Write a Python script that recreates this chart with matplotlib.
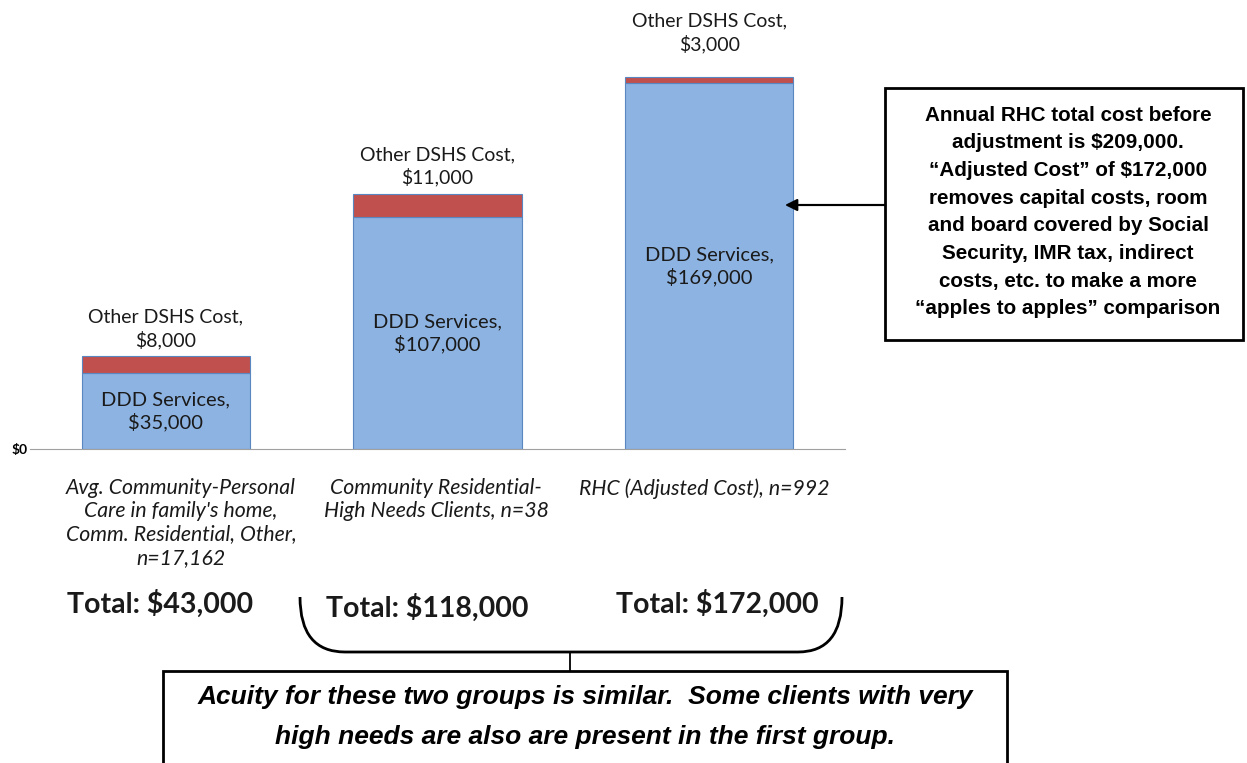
import numpy as np
import matplotlib.pyplot as plt
from matplotlib.patches import Rectangle, PathPatch
from matplotlib.path import Path

categories = ["Avg. Community-Personal\nCare in family's home,\nComm. Residential, Other,\nn=17,162",
              "Community Residential-\nHigh Needs Clients, n=38",
              "RHC (Adjusted Cost), n=992"]
ddd = [35000, 107000, 169000]
other = [8000, 11000, 3000]
totals = ["Total: $43,000", "Total: $118,000", "Total: $172,000"]

W, H = 1247, 763

def fx(x):
	return x / W

def fy(y):
	return 1 - y / H

fig = plt.figure(figsize=(12.47, 7.63), dpi=100)
ax = fig.add_axes([fx(30), fy(449), fx(845) - fx(30), fy(16) - fy(449)])

x = np.arange(len(categories))
ax.bar(x, ddd, width=0.62, color='#8DB3E2', edgecolor='#5B87C0', linewidth=0.8)
ax.bar(x, other, bottom=ddd, width=0.62, color='#C0504D', edgecolor='#5B87C0', linewidth=0.8)
ax.set_xlim(-0.5, 2.5)
ax.set_ylim(0, 200000)
for s in ['top', 'right', 'left']:
	ax.spines[s].set_visible(False)
ax.spines['bottom'].set_color('#A0A0A0')
ax.set_xticks([])
ax.set_yticks([0])
ax.set_yticklabels(['$0'], fontsize=10, fontfamily='Lato', fontweight='bold')
ax.tick_params(axis='y', length=0, pad=2)

lab_font = ['Lato', 'DejaVu Sans']
other_off = [5, 5, 17]
for i in range(len(categories)):
	ax.text(x[i], ddd[i] / 2, 'DDD Services,\n$%s' % format(ddd[i], ','), ha='center', va='center',
		fontsize=14.5, fontfamily=lab_font, linespacing=1.3, color='#1a1a1a')
	ax.annotate('Other DSHS Cost,\n$%s' % format(other[i], ','), (x[i], ddd[i] + other[i]),
		xytext=(0, other_off[i]), textcoords='offset points', ha='center', va='bottom',
		fontsize=14, fontfamily=lab_font, linespacing=1.3, color='#1a1a1a')

# category labels
cat_x = [181, 436, 704]
for i in range(len(categories)):
	fig.text(fx(cat_x[i]), fy(478), categories[i], ha='center', va='top', fontsize=15.3,
		fontstyle='italic', fontfamily=lab_font, linespacing=1.2, color='#1a1a1a')

# totals
tot_xy = [(160, 604), (427, 608), (717, 604)]
for i in range(len(totals)):
	fig.text(fx(tot_xy[i][0]), fy(tot_xy[i][1]), totals[i], ha='center', va='center',
		fontsize=20.5, fontweight='bold', fontfamily=lab_font, color='#1a1a1a')

# bracket under the two groups
verts = [(fx(300), fy(597)), (fx(300), fy(652)), (fx(345), fy(652)),
	(fx(798), fy(652)), (fx(842), fy(652)), (fx(842), fy(597))]
codes = [Path.MOVETO, Path.CURVE3, Path.CURVE3, Path.LINETO, Path.CURVE3, Path.CURVE3]
fig.patches.append(PathPatch(Path(verts, codes), transform=fig.transFigure, fill=False,
	edgecolor='black', linewidth=2))
fig.add_artist(plt.Line2D([fx(570), fx(570)], [fy(652), fy(671)], color='black', linewidth=1.3,
	transform=fig.transFigure))

# bottom note box
fig.patches.append(Rectangle((fx(163), fy(780)), fx(1007) - fx(163), fy(671) - fy(780),
	transform=fig.transFigure, fill=False, edgecolor='black', linewidth=2))
fig.text(fx(585), fy(717), 'Acuity for these two groups is similar.  Some clients with very\nhigh needs are also are present in the first group.',
	ha='center', va='center', fontsize=19, fontweight='bold', fontstyle='italic',
	fontfamily=['Liberation Sans Narrow', 'Liberation Sans'], linespacing=1.8)

# right note box
fig.patches.append(Rectangle((fx(885), fy(340)), fx(1243) - fx(885), fy(88) - fy(340),
	transform=fig.transFigure, fill=False, edgecolor='black', linewidth=2))
fig.text(fx(1068), fy(212), 'Annual RHC total cost before\nadjustment is $209,000.\n\u201cAdjusted Cost\u201d of $172,000\nremoves capital costs, room\nand board covered by Social\nSecurity, IMR tax, indirect\ncosts, etc. to make a more\n\u201capples to apples\u201d comparison',
	ha='center', va='center', fontsize=14.9, fontweight='bold', fontfamily='Liberation Sans',
	linespacing=1.58)
fig.add_artist(plt.Line2D([fx(885), fx(800)], [fy(205), fy(205)], color='black', linewidth=1.5,
	transform=fig.transFigure))
ax.annotate('', xy=(fx(785), fy(205)), xycoords='figure fraction', xytext=(fx(885), fy(205)),
	textcoords='figure fraction', arrowprops=dict(arrowstyle='-|>', color='black', lw=1.5,
	mutation_scale=18, shrinkA=0, shrinkB=0))

fig.savefig('out.png', dpi=100)
